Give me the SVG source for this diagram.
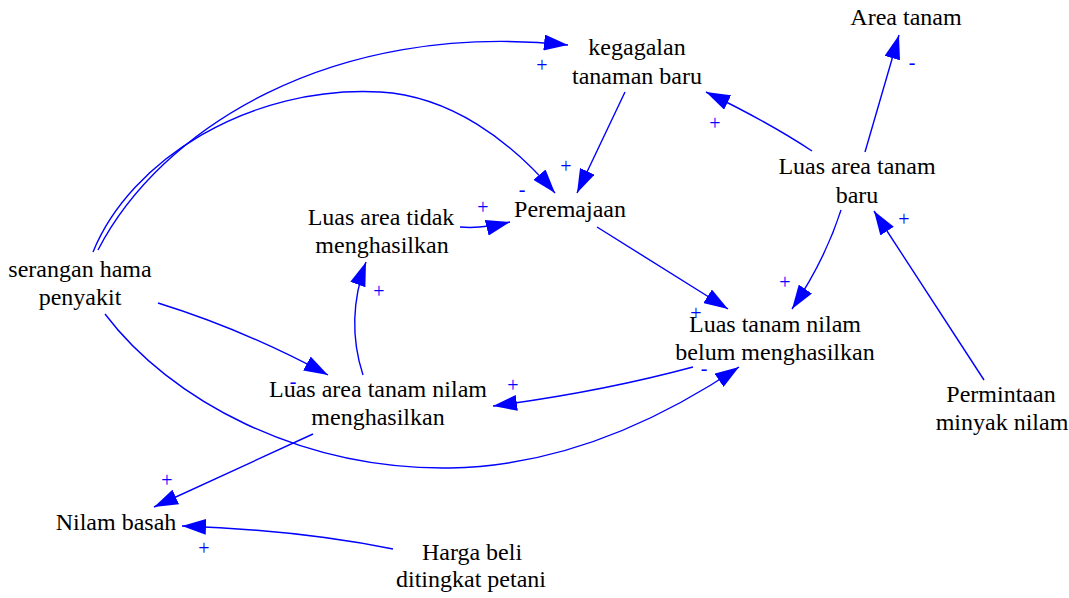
<svg xmlns="http://www.w3.org/2000/svg" width="1069" height="598" viewBox="0 0 1069 598">
<style>
.n{font-family:"Liberation Serif","Times New Roman",serif;font-size:24px;fill:#000;text-anchor:middle}
.c{fill:none;stroke:#0000ff;stroke-width:1.4;marker-end:url(#ah)}
.p{font-family:"Liberation Serif","Times New Roman",serif;font-size:20px;fill:#0000ff;text-anchor:middle;dominant-baseline:central}
</style>
<defs>
<marker id="ah" viewBox="0 0 24 16" refX="24" refY="8" markerWidth="24" markerHeight="16" markerUnits="userSpaceOnUse" orient="auto">
<path d="M0,0 L24,8 L0,16 z" fill="#0000ff"/>
</marker>
</defs>
<rect width="1069" height="598" fill="#fff"/>
<g id="connectors">
<path class="c" d="M98,250 C160,130 330,20 568,45"/>
<path class="c" d="M93,252 C130,160 250,85 380,92 C450,96 510,140 555,193"/>
<path class="c" d="M625,92 L577,193"/>
<path class="c" d="M460,227 Q482,229 510,222"/>
<path class="c" d="M597,227 L728,309"/>
<path class="c" d="M812,151 Q768,122 706,92"/>
<path class="c" d="M865,152 L899,35"/>
<path class="c" d="M841,210 Q825,260 792,309"/>
<path class="c" d="M984,380 L874,211"/>
<path class="c" d="M158,303 Q245,330 328,375"/>
<path class="c" d="M105,314 C170,400 300,470 450,468 C560,466 660,420 739,367"/>
<path class="c" d="M693,367 Q600,392 493,406"/>
<path class="c" d="M363,375 Q345,320 366,262"/>
<path class="c" d="M313,434 L154,507"/>
<path class="c" d="M393,549 Q300,530 182,526"/>
</g>
<g id="polarity">
<text class="p" x="542" y="65">+</text>
<text class="p" x="566" y="166">+</text>
<text class="p" x="522" y="189">-</text>
<text class="p" x="483" y="207">+</text>
<text class="p" x="715" y="123">+</text>
<text class="p" x="912" y="62">-</text>
<text class="p" x="785" y="282">+</text>
<text class="p" x="904" y="219">+</text>
<text class="p" x="379" y="291">+</text>
<text class="p" x="293" y="381">-</text>
<text class="p" x="513" y="385">+</text>
<text class="p" x="696" y="313">+</text>
<text class="p" x="704" y="368">-</text>
<text class="p" x="167" y="480">+</text>
<text class="p" x="204" y="548">+</text>
</g>
<g id="kegagalan"><text class="n" x="637" y="55">kegagalan</text><text class="n" x="637" y="84">tanaman baru</text></g>
<g id="area-tanam"><text class="n" x="906" y="25">Area tanam</text></g>
<g id="luas-area-tanam-baru"><text class="n" x="857" y="174">Luas area tanam</text><text class="n" x="857" y="203">baru</text></g>
<g id="peremajaan"><text class="n" x="570" y="217">Peremajaan</text></g>
<g id="luas-area-tidak"><text class="n" x="381" y="225">Luas area tidak</text><text class="n" x="382" y="253">menghasilkan</text></g>
<g id="serangan"><text class="n" x="80" y="277">serangan hama</text><text class="n" x="80" y="305">penyakit</text></g>
<g id="luas-area-tanam-nilam"><text class="n" x="378" y="397">Luas area tanam nilam</text><text class="n" x="378" y="425">menghasilkan</text></g>
<g id="luas-tanam-belum"><text class="n" x="775" y="332">Luas tanam nilam</text><text class="n" x="775" y="360">belum menghasilkan</text></g>
<g id="permintaan"><text class="n" x="1001" y="402">Permintaan</text><text class="n" x="1002" y="430">minyak nilam</text></g>
<g id="nilam-basah"><text class="n" x="116" y="530">Nilam basah</text></g>
<g id="harga-beli"><text class="n" x="472" y="560">Harga beli</text><text class="n" x="471" y="587">ditingkat petani</text></g>
</svg>
